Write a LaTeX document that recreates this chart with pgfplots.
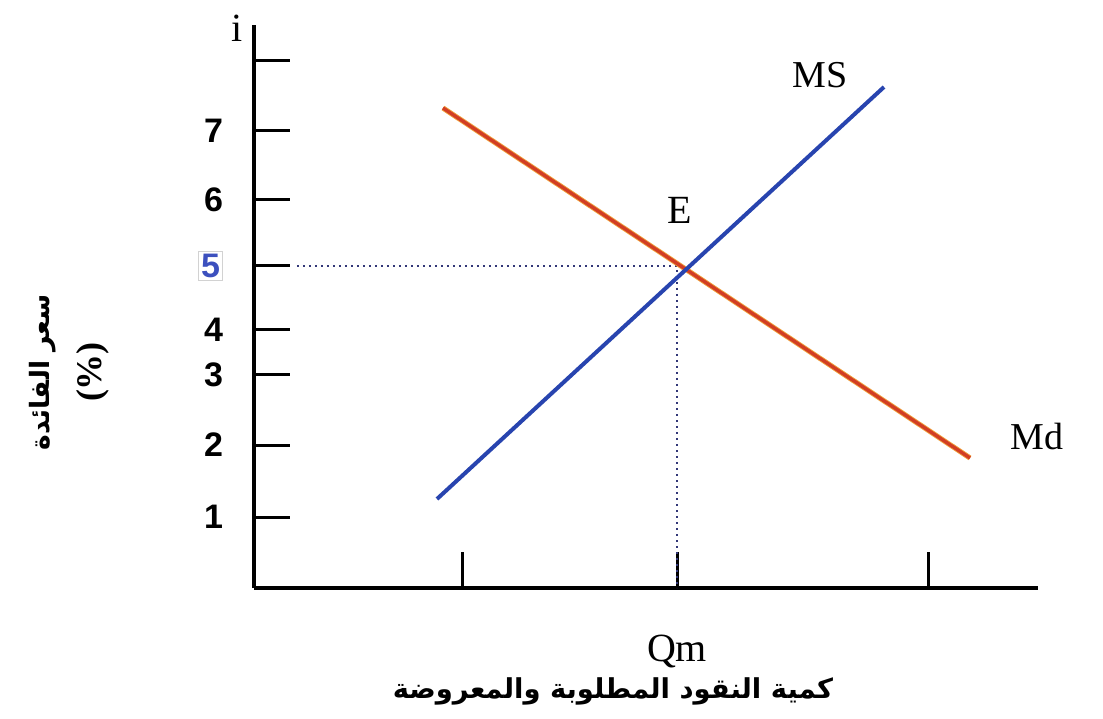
\documentclass[border=0pt]{standalone}
\usepackage{pgfplots}
\pgfplotsset{compat=1.18}
\usepackage{fontspec}
\setmainfont{Liberation Serif}
\newfontfamily\tickfont{Liberation Sans}
\newfontfamily\arabicfont[Script=Arabic]{DejaVu Sans}
\TeXXeTstate=1
\definecolor{msblue}{RGB}{40,68,175}
\definecolor{mdred}{RGB}{210,62,36}
\definecolor{mdorange}{RGB}{240,160,60}
\definecolor{dotblue}{RGB}{50,55,120}
\definecolor{fiveblue}{RGB}{60,80,190}
\newcommand\tl[1]{\textbf{\tickfont #1}}

\begin{document}
\begin{tikzpicture}
\begin{axis}[
    x=0.5pt, y=0.5pt,
    xmin=0, xmax=784, ymin=0, ymax=563,
    enlargelimits=false,
    clip=false,
    axis lines=left,
    axis line style={line width=1.6pt, -},
    tick align=inside,
    major tick length=18pt,
    major tick style={line width=1.5pt, black},
    xtick={209,423,674},
    xticklabels={{},Qm,{}},
    xticklabel style={font=\fontsize{20}{22}\selectfont, yshift=-20pt},
    ytick={71,143,213,258,322,388,457,527},
    yticklabels={\tl{1},\tl{2},\tl{3},\tl{4},{\setlength{\fboxsep}{1pt}\fcolorbox{gray!35}{white}{\textcolor{fiveblue}{\tl{5}}}},\tl{6},\tl{7},{}},
    yticklabel style={font=\fontsize{17}{19}\selectfont, xshift=-12pt},
    xlabel={\arabicfont\bfseries\beginR كمية النقود المطلوبة والمعروضة\endR},
    xlabel style={at={(axis cs:359,-103)}, anchor=center, font=\fontsize{13.7}{17}\selectfont},
    ylabel={\arabicfont\bfseries\beginR سعر الفائدة\endR\\ {\fontsize{18}{20}\selectfont\textbf{(\%)}}},
    ylabel style={at={(axis cs:-185,216)}, anchor=center, rotate=0, align=center, font=\fontsize{13.3}{26}\selectfont},
]
  % page extent
  \path (axis cs:-254,-130) rectangle (axis cs:849,588);

  % equilibrium guides
  \addplot[dotblue, line width=1pt, dash pattern=on 1pt off 2pt] coordinates {(43,322) (429,322)};
  \addplot[dotblue, line width=1pt, dash pattern=on 1pt off 2pt] coordinates {(423,318) (423,0)};

  % money demand
  \addplot[mdorange, line width=2.6pt] coordinates {(189,480) (716,130)};
  \addplot[mdred, line width=1.7pt] coordinates {(189,480) (716,130)};
  % money supply
  \addplot[msblue, line width=2pt] coordinates {(183,89) (630,501)};

  \node[font=\fontsize{19}{22}\selectfont] at (axis cs:566,513) {MS};
  \node[font=\fontsize{19}{22}\selectfont] at (axis cs:783,151) {Md};
  \node[font=\fontsize{20}{22}\selectfont] at (axis cs:426,378) {E};
  \node[font=\fontsize{20}{22}\selectfont] at (axis cs:-17,560) {i};
\end{axis}
\end{tikzpicture}
\end{document}
